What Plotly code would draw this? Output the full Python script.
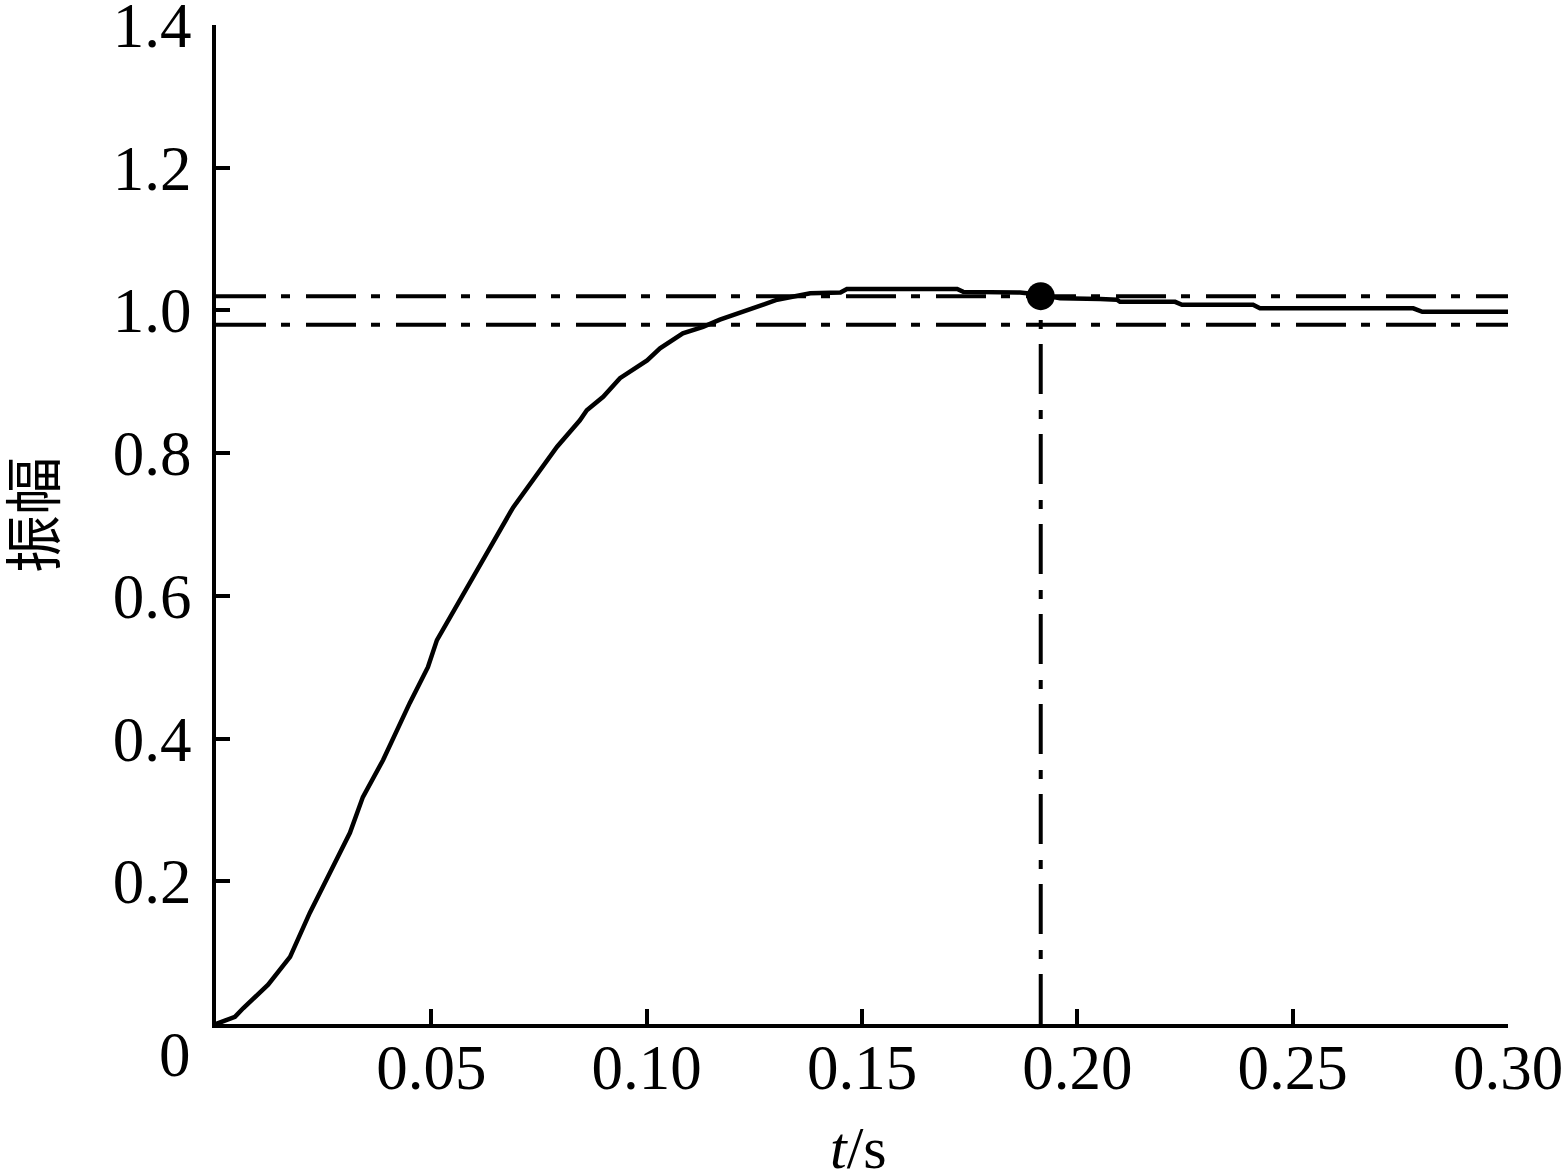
import plotly.graph_objects as go

# Step response data
t_vals = [0, 0.0044, 0.0063, 0.0121, 0.0172, 0.0218, 0.0248, 0.0311, 0.0341, 0.0388,
          0.0450, 0.0492, 0.0513, 0.0567, 0.0629, 0.0690, 0.0736, 0.0792, 0.0845,
          0.0861, 0.0899, 0.0938, 0.1001, 0.1031, 0.1084, 0.1131, 0.1170, 0.1247,
          0.1280, 0.1303, 0.1380, 0.1450, 0.1465, 0.1721, 0.1735, 0.1867, 0.1915,
          0.1960, 0.2053, 0.2092, 0.2099, 0.2227, 0.2243, 0.2408, 0.2424, 0.2780,
          0.2801, 0.3000]
amp_vals = [0, 0.010, 0.022, 0.055, 0.094, 0.156, 0.192, 0.268, 0.318, 0.370,
            0.450, 0.500, 0.538, 0.596, 0.660, 0.724, 0.762, 0.809, 0.846,
            0.860, 0.879, 0.905, 0.930, 0.947, 0.968, 0.977, 0.987, 1.003,
            1.010, 1.015, 1.024, 1.025, 1.030, 1.030, 1.026, 1.025, 1.022,
            1.017, 1.016, 1.015, 1.012, 1.012, 1.008, 1.008, 1.003, 1.003,
            0.998, 0.998]

band_upper = 1.02
band_lower = 0.98
settle_t = 0.1915
settle_amp = 1.02
x_range = [0, 0.30]
y_range = [0, 1.4]

x_ticks = [0.05, 0.10, 0.15, 0.20, 0.25, 0.30]
x_ticklabels = ["0.05", "0.10", "0.15", "0.20", "0.25", "0.30"]
y_ticks = [0.2, 0.4, 0.6, 0.8, 1.0, 1.2, 1.4]
y_ticklabels = ["0.2", "0.4", "0.6", "0.8", "1.0", "1.2", "1.4"]

FONT = "Liberation Serif, Times New Roman, serif"
dash_pat = "50px,15px,9px,16px"

fig = go.Figure()

fig.add_trace(go.Scatter(x=x_range, y=[band_upper, band_upper], mode="lines",
                         line=dict(color="black", width=4, dash=dash_pat),
                         hoverinfo="skip", showlegend=False))
fig.add_trace(go.Scatter(x=x_range, y=[band_lower, band_lower], mode="lines",
                         line=dict(color="black", width=4, dash=dash_pat),
                         hoverinfo="skip", showlegend=False))
fig.add_trace(go.Scatter(x=[settle_t, settle_t], y=[0, settle_amp], mode="lines",
                         line=dict(color="black", width=4, dash=dash_pat),
                         hoverinfo="skip", showlegend=False))
fig.add_trace(go.Scatter(x=t_vals, y=amp_vals, mode="lines",
                         line=dict(color="black", width=4.5),
                         showlegend=False))
fig.add_trace(go.Scatter(x=[settle_t], y=[settle_amp], mode="markers",
                         marker=dict(color="black", size=28),
                         showlegend=False))

fig.update_xaxes(range=x_range, tickvals=x_ticks, ticktext=x_ticklabels,
                 showgrid=False, zeroline=False, showline=True, linecolor="black",
                 linewidth=4, ticks="inside", ticklen=15, tickwidth=4,
                 tickcolor="black", tickfont=dict(family=FONT, size=63, color="black"),
                 ticklabelstandoff=-15, ticklabeloverflow="allow", automargin=False)
fig.update_yaxes(range=y_range, tickvals=y_ticks, ticktext=y_ticklabels,
                 showgrid=False, zeroline=False, showline=True, linecolor="black",
                 linewidth=4, ticks="inside", ticklen=14, tickwidth=4,
                 tickcolor="black", tickfont=dict(family=FONT, size=63, color="black"),
                 ticklabelstandoff=8, ticklabeloverflow="allow", automargin=False)

fig.add_annotation(text="0", xref="paper", yref="paper", x=-0.0317, y=-0.031,
                   showarrow=False, xanchor="center", yanchor="middle",
                   font=dict(family=FONT, size=63, color="black"))
fig.add_annotation(text="<i>t</i>/s", xref="paper", yref="paper", x=0.497, y=-0.124,
                   showarrow=False, xanchor="center", yanchor="middle",
                   font=dict(family=FONT, size=60, color="black"))
fig.add_annotation(text="振幅", xref="paper", yref="paper", x=-0.144, y=0.5095,
                   showarrow=False, xanchor="center", yanchor="middle", textangle=-90,
                   font=dict(family="Noto Sans CJK SC", size=58, color="black"))

fig.update_layout(width=1568, height=1173,
                  margin=dict(l=216, r=60, t=25, b=149, autoexpand=False),
                  paper_bgcolor="white", plot_bgcolor="white")

fig.write_html("out.html", config={"displayModeBar": False},
               post_script="document.body.style.margin='0px';document.body.style.overflow='hidden';")
